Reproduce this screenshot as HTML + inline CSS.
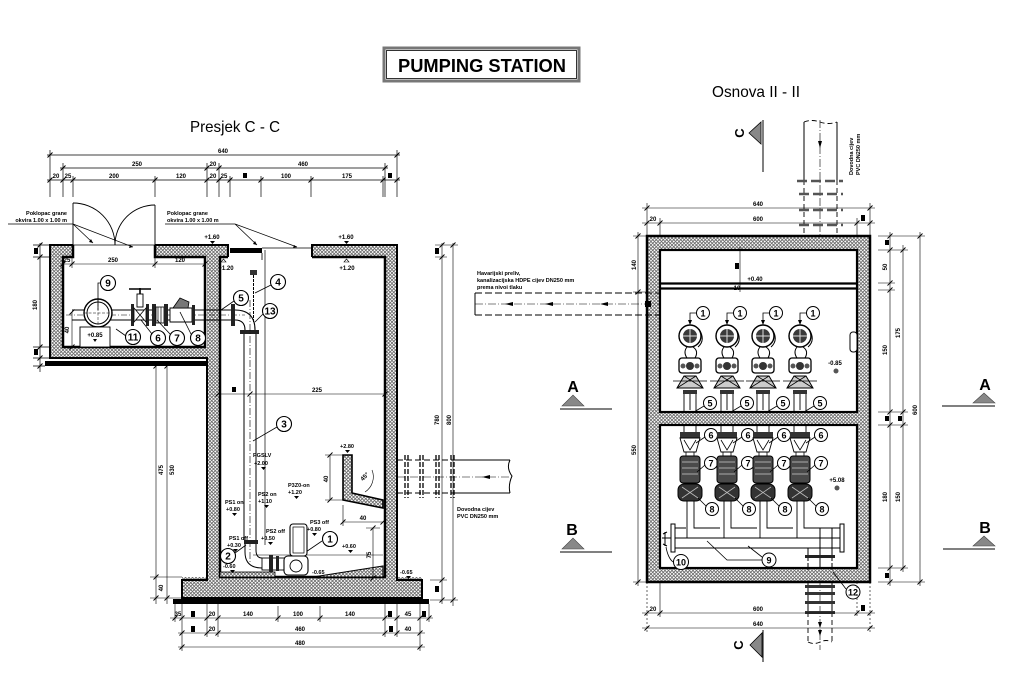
<!DOCTYPE html>
<html><head><meta charset="utf-8"><style>
html,body{margin:0;padding:0;background:#fff;width:1015px;height:677px;overflow:hidden}
svg{display:block}
text{font-family:"Liberation Sans",sans-serif;fill:#000}
.d{font-size:6px;font-weight:bold;text-anchor:middle}
.e{font-size:5.5px;font-weight:bold}
.c{font-size:10px;font-weight:bold;text-anchor:middle}
.c2{font-size:9px;font-weight:bold;text-anchor:middle}
</style></head><body>
<svg width="1015" height="677" viewBox="0 0 1015 677" xmlns="http://www.w3.org/2000/svg">
<defs>
<pattern id="h" width="3.5" height="3.5" patternUnits="userSpaceOnUse"><rect width="3.5" height="3.5" fill="#fff"/><path d="M0 0L3.5 3.5M3.5 0L0 3.5" stroke="#6a6a6a" stroke-width="0.8"/></pattern>
</defs>

<!-- TITLE -->
<rect x="384" y="48" width="195" height="33" fill="#fff" stroke="#777" stroke-width="3"/>
<rect x="386.5" y="50.5" width="190" height="28" fill="none" stroke="#000" stroke-width="0.8"/>
<text x="482" y="72" font-size="18" font-weight="bold" text-anchor="middle" textLength="168" lengthAdjust="spacingAndGlyphs">PUMPING STATION</text>
<text x="190" y="132" font-size="16" textLength="90" lengthAdjust="spacingAndGlyphs">Presjek C - C</text>
<text x="712" y="97" font-size="16" textLength="88" lengthAdjust="spacingAndGlyphs">Osnova II - II</text>

<!-- ============ LEFT SECTION ============ -->
<!-- top dims -->
<g stroke="#000" fill="none">
<path stroke-width="0.7" d="M47,155H400 M60,168H388 M47,180H400
 M50,150V197 M397,150V197 M63,163V197 M385,163V197 M207,163V197 M219,163V197
 M73,176V197 M155,176V197 M230,176V197 M261,176V197 M311,176V197 M383,176V197"/>
<path stroke-width="1" d="M47.5,157.5l5,-5 M394.5,157.5l5,-5 M60.5,170.5l5,-5 M204.5,170.5l5,-5 M216.5,170.5l5,-5 M382.5,170.5l5,-5 M47.5,182.5l5,-5 M60.5,182.5l5,-5 M70.5,182.5l5,-5 M152.5,182.5l5,-5 M204.5,182.5l5,-5 M216.5,182.5l5,-5 M227.5,182.5l5,-5 M258.5,182.5l5,-5 M308.5,182.5l5,-5 M380.5,182.5l5,-5 M394.5,182.5l5,-5"/>
</g>
<text x="223" y="153" class="d">640</text>
<text x="137" y="166" class="d">250</text>
<text x="213" y="166" class="d">20</text>
<text x="303" y="166" class="d">460</text>
<text x="56" y="178" class="d">20</text>
<text x="68" y="178" class="d">25</text>
<text x="114" y="178" class="d">200</text>
<text x="181" y="178" class="d">120</text>
<text x="213" y="178" class="d">20</text>
<text x="224" y="178" class="d">25</text>
<rect x="243" y="173" width="4" height="5"/>
<text x="286" y="178" class="d">100</text>
<text x="347" y="178" class="d">175</text>
<rect x="388" y="173" width="4" height="5"/>

<!-- left dims of room -->
<g stroke="#000" fill="none" stroke-width="0.7">
<path d="M40,243V372 M33,245H50 M33,257H50 M33,347H50 M33,358H50 M33,366H45"/>
<path stroke-width="1" d="M37.5,247.5l5,-5 M37.5,259.5l5,-5 M37.5,349.5l5,-5 M37.5,360.5l5,-5 M37.5,368.5l5,-5"/>
</g>
<rect x="34" y="248" width="4" height="6"/>
<text x="37" y="305" class="d" transform="rotate(-90 37 305)">180</text>
<rect x="34" y="349" width="4" height="6"/>

<!-- walls -->
<g fill="url(#h)">
<rect x="50" y="245" width="13" height="113"/>
<rect x="50" y="245" width="23" height="12"/>
<rect x="155" y="245" width="73" height="12"/>
<rect x="50" y="347" width="157" height="11"/>
<rect x="207" y="245" width="13" height="335"/>
<rect x="312" y="245" width="85" height="12"/>
<rect x="385" y="245" width="12" height="335"/>
<rect x="182" y="577" width="240" height="21"/>
</g>
<g stroke="#000" fill="none">
<path stroke-width="2.5" d="M73,245V257H63V347H205V257H155V245"/>
<path stroke-width="2" d="M73,245H50V358H207V580H182V598H422V580H397V245H312V257"/>
<path stroke-width="2" d="M155,245H228V257"/>
<path stroke-width="2.5" d="M228,257H220V577H385V257H312"/>
<path stroke-width="0.8" d="M73,245H155"/>
</g>
<rect x="45" y="361" width="162" height="5"/>
<rect x="173" y="599" width="256" height="5"/>
<!-- grating -->
<rect x="230" y="248" width="32" height="5"/>
<path d="M262,248H312 M262,253V260" stroke="#000" stroke-width="0.8" fill="none"/>

<!-- door leaves -->
<g stroke="#000" fill="none" stroke-width="0.9">
<path d="M73,245V203 M155,245V205"/>
<path d="M73,203A42,42 0 0,1 115,245"/>
<path d="M155,205A40,40 0 0,0 115,245"/>
<path stroke-width="0.7" d="M8,224H73L93,243 M73,224L133,247 M165,224H235L257,245 M235,224L297,247"/>
</g>
<path d="M93,243l-4,-1 2,-3z M133,247l-4,1 1,-3z M257,245l-4,-1 2,-3z M297,247l-4,1 1,-3z"/>
<text x="67" y="215" class="e" text-anchor="end">Poklopac grane</text>
<text x="67" y="222" class="e" text-anchor="end">okvira 1.00 x 1.00 m</text>
<text x="167" y="215" class="e">Poklopac grane</text>
<text x="167" y="222" class="e">okvira 1.00 x 1.00 m</text>

<!-- elevations top -->
<text x="212" y="239" class="d">+1.60</text>
<path d="M210,241h5l-2.5,3z"/>
<text x="346" y="239" class="d">+1.60</text>
<path d="M344,241h5l-2.5,3z"/>
<path d="M221,262h5l-2.5,-3z" fill="none" stroke="#000" stroke-width="0.6"/>
<text x="226" y="270" class="d">+1.20</text>
<path d="M344,262h5l-2.5,-3z" fill="none" stroke="#000" stroke-width="0.6"/>
<text x="347" y="270" class="d">+1.20</text>

<!-- room inner dims -->
<g stroke="#000" fill="none" stroke-width="0.6">
<path d="M63,264H205 M72,258V268 M155,258V268 M72,312V347"/>
<path stroke-width="0.9" d="M60.5,266.5l5,-5 M69.5,266.5l5,-5 M152.5,266.5l5,-5 M202.5,266.5l5,-5 M69.5,314.5l5,-5 M69.5,349.5l5,-5"/>
</g>
<text x="67" y="262" class="d">25</text>
<text x="113" y="262" class="d">250</text>
<text x="180" y="262" class="d">120</text>
<text x="69" y="330" class="d" transform="rotate(-90 69 330)">40</text>

<!-- room pipe & fittings -->
<path d="M72,310H232 M72,320H232" stroke="#000" stroke-width="1" fill="none"/>
<path d="M66,315H245" stroke="#000" stroke-width="0.5" stroke-dasharray="6,2,1,2"/>
<circle cx="98" cy="313" r="14" fill="#fff" stroke="#000" stroke-width="1.4"/>
<circle cx="98" cy="313" r="11" fill="none" stroke="#000" stroke-width="1"/>
<path d="M84,313H112 M98,299V327" stroke="#000" stroke-width="0.5" stroke-dasharray="3,1.5"/>
<rect x="80" y="327" width="30" height="20" fill="#fff" stroke="#000" stroke-width="0.9"/>
<text x="95" y="337" class="d">+0.85</text>
<path d="M93,339h4l-2,3z"/>
<!-- gate valve -->
<rect x="131" y="304" width="3" height="22" fill="#222"/>
<rect x="146" y="304" width="3" height="22" fill="#222"/>
<path d="M134,308L140,315L134,322Z M146,308L140,315L146,322Z" fill="#fff" stroke="#000" stroke-width="0.8"/>
<rect x="137" y="294" width="6" height="13" fill="#fff" stroke="#000" stroke-width="0.9"/>
<path d="M140,294V288 M129,289H151" stroke="#000" stroke-width="1.6"/>
<!-- dismantling joint -->
<rect x="152" y="304" width="4" height="22" fill="#222"/>
<rect x="156" y="307" width="8" height="16" fill="#fff" stroke="#000" stroke-width="0.8"/>
<path d="M158,307V323 M161,307V323" stroke="#000" stroke-width="0.7"/>
<rect x="164" y="304" width="4" height="22" fill="#222"/>
<!-- check valve -->
<path d="M170,308H192V322H170Z" fill="#fff" stroke="#000" stroke-width="0.9"/>
<path d="M173,308L180,298L189,302L188,308Z" fill="#777" stroke="#000" stroke-width="0.8"/>
<rect x="192" y="305" width="3" height="20" fill="#222"/>
<rect x="231" y="304" width="4" height="22" fill="#222"/>
<!-- elbow and riser -->
<path d="M235,310Q255,310 255,330 M235,320Q245,320 245,330" stroke="#000" stroke-width="1.1" fill="none"/>
<rect x="240" y="330" width="19" height="4" fill="#222"/>
<path d="M244,334V540 M256,334V540" stroke="#000" stroke-width="1" fill="none"/>
<path d="M250,300V565" stroke="#000" stroke-width="0.6" stroke-dasharray="7,2,1,2"/>
<!-- vent -->
<rect x="250" y="270" width="7" height="5" fill="#333"/>
<path d="M253.5,275V322" stroke="#000" stroke-width="1" stroke-dasharray="3,1"/>
<path d="M265,250V545" stroke="#000" stroke-width="0.7"/>
<!-- chamber dim -->
<g stroke="#000" stroke-width="0.6" fill="none">
<path d="M218,394H385"/>
<path stroke-width="0.9" d="M215.5,396.5l5,-5 M247.5,396.5l5,-5 M382.5,396.5l5,-5"/>
</g>
<rect x="232" y="387" width="4" height="5"/>
<text x="317" y="392" class="d">225</text>

<!-- callouts left -->
<g stroke="#000" stroke-width="0.8" fill="none">
<path d="M100,283H98V310 M126,336L116,329 M152,334L141,320 M170,334L157,320 M191,334L180,312 M234,301L221,310 M263,314L255,322 M271,285L255,293 M277,427L253,441 M322,541L300,556 M235,553L246,545"/>
</g>
<g fill="#fff" stroke="#000" stroke-width="1.1">
<circle cx="108" cy="283" r="7.5"/><circle cx="133" cy="337" r="7.5"/><circle cx="158" cy="338" r="7.5"/><circle cx="177" cy="338" r="7.5"/><circle cx="198" cy="338" r="7.5"/>
<circle cx="241" cy="298" r="7.5"/><circle cx="270" cy="311" r="7.5"/><circle cx="278" cy="282" r="7.5"/><circle cx="284" cy="424" r="7.5"/>
<circle cx="330" cy="539" r="7.5"/><circle cx="228" cy="556" r="7.5"/>
</g>
<text x="108" y="286.5" class="c">9</text>
<text x="133" y="340.5" class="c">11</text>
<text x="158" y="341.5" class="c">6</text>
<text x="177" y="341.5" class="c">7</text>
<text x="198" y="341.5" class="c">8</text>
<text x="241" y="301.5" class="c">5</text>
<text x="270" y="314.5" class="c">13</text>
<text x="278" y="285.5" class="c">4</text>
<text x="284" y="427.5" class="c">3</text>
<text x="330" y="542.5" class="c">1</text>
<text x="228" y="559.5" class="c">2</text>

<!-- chamber bottom -->
<rect x="220" y="572" width="55" height="5" fill="url(#h)" stroke="#000" stroke-width="0.8"/>
<path d="M313,577L383,566V577Z" fill="url(#h)" stroke="#000" stroke-width="1"/>
<path d="M253,555H383" stroke="#000" stroke-width="0.5"/>
<!-- pump in section -->
<rect x="244" y="540" width="14" height="4" fill="#222"/>
<path d="M245,544V552Q245,568 262,568 M256,544V550Q256,558 262,558" stroke="#000" stroke-width="1" fill="none"/>
<rect x="262" y="558" width="28" height="12" fill="#fff" stroke="#000" stroke-width="0.9"/>
<rect x="269" y="555" width="4" height="17" fill="#222"/>
<rect x="276" y="556" width="3" height="15" fill="#222"/>
<rect x="290" y="524" width="17" height="32" rx="3" fill="#fff" stroke="#000" stroke-width="1.1"/>
<rect x="293" y="527" width="11" height="26" fill="none" stroke="#000" stroke-width="0.7"/>
<rect x="284" y="556" width="24" height="19" rx="4" fill="#fff" stroke="#000" stroke-width="1.1"/>
<circle cx="296" cy="566" r="6" fill="none" stroke="#000" stroke-width="0.9"/>
<!-- baffle -->
<path d="M343,455H352V493L383,500V508L343,500Z" fill="url(#h)" stroke="#000" stroke-width="1.6"/>
<g stroke="#000" stroke-width="0.6" fill="none">
<path d="M330,455V500 M325,455H343 M325,500H343 M343,522H383 M343,505V526 M373,528V578 M366,528H380"/>
<path d="M365,492A18,18 0 0,0 372,470"/>
<path stroke-width="0.9" d="M327.5,457.5l5,-5 M327.5,502.5l5,-5 M340.5,524.5l5,-5 M380.5,524.5l5,-5 M370.5,530.5l5,-5 M370.5,580.5l5,-5"/>
</g>
<text x="328" y="479" class="d" transform="rotate(-90 328 479)">40</text>
<text x="363" y="520" class="d">40</text>
<text x="371" y="555" class="d" transform="rotate(-90 371 555)">75</text>
<text x="366" y="478" class="d" transform="rotate(-45 366 478)">45°</text>

<!-- level labels -->
<g class="e">
<text x="347" y="448" text-anchor="middle">+2.80</text>
<text x="253" y="457">PGSLV</text><text x="254" y="465">+2.00</text>
<text x="288" y="487">P3Z0-on</text><text x="288" y="494">+1.20</text>
<text x="258" y="496">PS2 on</text><text x="258" y="503">+1.10</text>
<text x="225" y="504">PS1 on</text><text x="226" y="511">+0.80</text>
<text x="310" y="524">PS3 off</text><text x="307" y="531">+0.80</text>
<text x="266" y="533">PS2 off</text><text x="261" y="540">+0.50</text>
<text x="229" y="540">PS1 off</text><text x="227" y="547">+0.30</text>
<text x="223" y="568">-0.60</text>
<text x="312" y="574">-0.65</text>
<text x="342" y="548">+0.60</text>
<text x="400" y="574">-0.65</text>
</g>
<path d="M345,450h5l-2.5,3z M261,467h5l-2.5,3z M294,496h5l-2.5,3z M264,505h5l-2.5,3z M232,513h5l-2.5,3z M312,533h5l-2.5,3z M268,542h5l-2.5,3z M233,549h5l-2.5,3z M230,570h5l-2.5,3z M316,576h5l-2.5,3z M348,550h5l-2.5,3z M406,576h5l-2.5,3z"/>

<!-- lower-left dims -->
<g stroke="#000" stroke-width="0.6" fill="none">
<path d="M156,366V604 M167,366V604 M150,577H182 M150,598H182"/>
<path stroke-width="0.9" d="M153.5,368.5l5,-5 M153.5,579.5l5,-5 M153.5,600.5l5,-5 M164.5,368.5l5,-5 M164.5,600.5l5,-5"/>
</g>
<text x="163" y="470" class="d" transform="rotate(-90 163 470)">475</text>
<text x="174" y="470" class="d" transform="rotate(-90 174 470)">530</text>
<text x="163" y="588" class="d" transform="rotate(-90 163 588)">40</text>

<!-- right dims left section -->
<g stroke="#000" stroke-width="0.6" fill="none">
<path d="M442,243V604 M453,243V606 M435,245H458 M435,257H447 M430,580H447 M430,600H458"/>
<path stroke-width="0.9" d="M439.5,247.5l5,-5 M439.5,259.5l5,-5 M439.5,582.5l5,-5 M439.5,602.5l5,-5 M450.5,247.5l5,-5 M450.5,602.5l5,-5"/>
</g>
<rect x="435" y="248" width="4" height="6"/>
<text x="439" y="420" class="d" transform="rotate(-90 439 420)">780</text>
<text x="451" y="420" class="d" transform="rotate(-90 451 420)">800</text>
<rect x="435" y="586" width="4" height="6"/>

<!-- bottom dims left section -->
<g stroke="#000" stroke-width="0.6" fill="none">
<path d="M170,618H433 M178,633H425 M178,647H425
 M175,604V622 M429,604V622 M278,606V622 M320,606V622 M182,600V651 M420,600V651 M207,600V637 M218,600V637 M385,600V637 M397,600V637"/>
<path stroke-width="0.9" d="M172.5,620.5l5,-5 M179.5,620.5l5,-5 M204.5,620.5l5,-5 M215.5,620.5l5,-5 M275.5,620.5l5,-5 M317.5,620.5l5,-5 M382.5,620.5l5,-5 M394.5,620.5l5,-5 M417.5,620.5l5,-5 M426.5,620.5l5,-5 M179.5,635.5l5,-5 M204.5,635.5l5,-5 M215.5,635.5l5,-5 M382.5,635.5l5,-5 M394.5,635.5l5,-5 M417.5,635.5l5,-5 M179.5,649.5l5,-5 M417.5,649.5l5,-5"/>
</g>
<text x="178" y="616" class="d">35</text>
<rect x="191" y="611" width="4" height="6"/>
<text x="212" y="616" class="d">20</text>
<text x="248" y="616" class="d">140</text>
<text x="298" y="616" class="d">100</text>
<text x="350" y="616" class="d">140</text>
<rect x="388" y="611" width="4" height="6"/>
<text x="408" y="616" class="d">45</text>
<rect x="422" y="611" width="4" height="6"/>
<rect x="191" y="626" width="4" height="6"/>
<text x="212" y="631" class="d">20</text>
<text x="300" y="631" class="d">460</text>
<rect x="389" y="626" width="4" height="6"/>
<text x="408" y="631" class="d">40</text>
<text x="300" y="645" class="d">480</text>

<!-- inlet pipe section -->
<g stroke="#000" fill="none">
<path stroke-width="1" d="M453,460H510 M453,493H510 M510,460Q506,468 512,476 Q508,485 510,493"/>
<path stroke-width="0.9" stroke-dasharray="6,3" d="M397,460H453 M397,493H453"/>
<path stroke-width="0.6" stroke-dasharray="8,2,1,2" d="M397,477H512"/>
<path stroke-width="1.3" stroke-dasharray="5,2" d="M405,455V498 M408,455V498 M420,455V498 M423,455V498 M436,455V498 M439,455V498 M451,455V498 M454,455V498"/>
</g>
<path d="M482,477l8,-2v4z"/>
<text x="457" y="511" class="e">Dovodna cijev</text>
<text x="457" y="518" class="e">PVC DN250 mm</text>

<!-- ============ PLAN ============ -->
<!-- C markers -->
<text x="740" y="133" font-size="13" font-weight="bold" text-anchor="middle" transform="rotate(-90 740 133)" dy="4">C</text>
<path d="M749,133L761,122V144Z" fill="#888" stroke="#000" stroke-width="0.8"/>
<path d="M763,120V172" stroke="#000" stroke-width="1"/>
<text x="739" y="645" font-size="13" font-weight="bold" text-anchor="middle" transform="rotate(-90 739 645)" dy="4">C</text>
<path d="M750,645L762,633V657Z" fill="#888" stroke="#000" stroke-width="0.8"/>
<path d="M763,630V662" stroke="#000" stroke-width="1"/>

<!-- top inlet pipe -->
<g stroke="#000" fill="none">
<path stroke-width="1" d="M804,122V180 M837,122V180"/>
<path stroke-width="0.9" stroke-dasharray="5,3" d="M804,180V236 M837,180V236 M804,122Q812,119 820,122T837,122"/>
<path stroke-width="0.6" stroke-dasharray="8,2,1,2" d="M820,120V240"/>
<path stroke="#555" stroke-width="2.5" stroke-dasharray="10,4" d="M797,181H843 M799,194H843 M799,210H843 M799,225H843"/>
</g>
<path d="M818,141h4l-2,7z"/>
<text x="853" y="175" class="e" transform="rotate(-90 853 175)">Dovodna cijev</text>
<text x="860" y="175" class="e" transform="rotate(-90 860 175)">PVC DN250 mm</text>

<!-- plan walls -->
<g fill="url(#h)">
<rect x="647" y="236" width="223" height="14"/>
<rect x="647" y="568" width="223" height="14"/>
<rect x="647" y="236" width="13" height="346"/>
<rect x="857" y="236" width="13" height="346"/>
<rect x="660" y="412" width="197" height="13"/>
</g>
<rect x="647" y="236" width="223" height="346" fill="none" stroke="#000" stroke-width="2.5"/>
<rect x="660" y="250" width="197" height="162" fill="none" stroke="#000" stroke-width="2.2"/>
<rect x="660" y="425" width="197" height="143" fill="none" stroke="#000" stroke-width="2.2"/>
<path d="M661,283.5H857 M661,288.5H857" stroke="#000" stroke-width="2.3"/>
<path d="M740,247V292 M735,250H745 M735,283H745" stroke="#000" stroke-width="0.6"/>
<rect x="735" y="263" width="4" height="6"/>
<text x="755" y="281" class="d">+0.40</text>
<text x="737" y="290" class="d">10</text>
<rect x="850" y="332" width="7" height="20" rx="3" fill="#fff" stroke="#000" stroke-width="1"/>
<text x="835" y="365" class="d">-0.85</text>
<circle cx="836" cy="371" r="2.5" fill="#555"/>
<text x="837" y="482" class="d">+5.08</text>
<circle cx="837" cy="488" r="2.5" fill="#555"/>

<!-- overflow pipe plan -->
<g stroke="#000" fill="none">
<path stroke-width="0.9" stroke-dasharray="7,3" d="M475,293H660 M475,315H660"/>
<path stroke-width="0.6" stroke-dasharray="8,2,1,2" d="M475,304H660"/>
<path stroke-width="1" d="M475,293V315"/>
</g>
<path d="M505,304l8,-2v4z M545,304l8,-2v4z M600,304l8,-2v4z"/>
<rect x="645" y="301" width="6" height="6"/>
<text x="477" y="275" class="e">Havarijski preliv,</text>
<text x="477" y="282" class="e">kanalizacijska HDPE cijev DN250 mm</text>
<text x="477" y="289" class="e">prema nivoi tlaku</text>

<!-- pumps upper -->
<g id="pumps">
<g transform="translate(690,0)">
<circle cx="0" cy="336" r="11" fill="#fff" stroke="#000" stroke-width="1.4"/>
<circle cx="0" cy="336" r="7" fill="#3a3a3a"/>
<path d="M-7,336H7M0,329V343" stroke="#ddd" stroke-width="1"/>
<path d="M9,329Q16,340 8,347 M-3,347Q-7,352 -3,358 M3,347Q9,351 5,358" stroke="#000" fill="none" stroke-width="1"/>
<rect x="-11" y="358" width="22" height="15" rx="3" fill="#fff" stroke="#000" stroke-width="1.3"/>
<circle cx="0" cy="366" r="4" fill="#333"/><circle cx="-7" cy="366" r="2.5" fill="#555"/><circle cx="7" cy="366" r="2.5" fill="#555"/>
<path d="M-13,388L-6,376H6L13,388Z" fill="#ccc" stroke="#000" stroke-width="1"/>
<path d="M-13,388L6,376M13,388L-6,376M-17,381H17" stroke="#000" stroke-width="0.8"/>
<rect x="-7" y="390" width="14" height="4" fill="#333"/>
<path d="M-6,394V412M6,394V412M0,394V410M-6,425V432M6,425V432" stroke="#000" stroke-width="0.9"/>
<rect x="-10" y="432" width="20" height="6" fill="#333"/>
<path d="M-10,438H10L6,452H-6Z" fill="#fff" stroke="#000" stroke-width="0.9"/>
<path d="M-6,440L0,450L6,440M-4,452V456M4,452V456" stroke="#000" stroke-width="0.8" fill="none"/>
<rect x="-10" y="456" width="20" height="27" rx="3" fill="#4a4a4a" stroke="#000"/>
<path d="M-8,462H8M-8,468H8M-8,474H8" stroke="#ccc" stroke-width="0.8"/>
<rect x="-12" y="484" width="24" height="17" rx="6" fill="#333" stroke="#000"/>
<path d="M-8,487L8,498M8,487L-8,498" stroke="#bbb" stroke-width="0.8"/>
<path d="M-3,501V538M4,501V528H30" stroke="#000" stroke-width="0.9" fill="none"/>
<path d="M6.5,313H0V322M14,406L4,412M15,437L6,443M15,465L7,472M16,506L8,498" stroke="#000" stroke-width="0.8" fill="none"/>
<path d="M-2,320L2,320L0,325Z"/>
<g fill="#fff" stroke="#000" stroke-width="1"><circle cx="13" cy="313" r="6.5"/><circle cx="20" cy="403" r="6.5"/><circle cx="21" cy="435" r="6.5"/><circle cx="21" cy="463" r="6.5"/><circle cx="22" cy="509" r="6.5"/></g>
<text x="13" y="316.5" class="c2">1</text><text x="20" y="406.5" class="c2">5</text><text x="21" y="438.5" class="c2">6</text><text x="21" y="466.5" class="c2">7</text><text x="22" y="512.5" class="c2">8</text>
</g>
<g transform="translate(727,0)">
<circle cx="0" cy="336" r="11" fill="#fff" stroke="#000" stroke-width="1.4"/>
<circle cx="0" cy="336" r="7" fill="#3a3a3a"/>
<path d="M-7,336H7M0,329V343" stroke="#ddd" stroke-width="1"/>
<path d="M9,329Q16,340 8,347 M-3,347Q-7,352 -3,358 M3,347Q9,351 5,358" stroke="#000" fill="none" stroke-width="1"/>
<rect x="-11" y="358" width="22" height="15" rx="3" fill="#fff" stroke="#000" stroke-width="1.3"/>
<circle cx="0" cy="366" r="4" fill="#333"/><circle cx="-7" cy="366" r="2.5" fill="#555"/><circle cx="7" cy="366" r="2.5" fill="#555"/>
<path d="M-13,388L-6,376H6L13,388Z" fill="#ccc" stroke="#000" stroke-width="1"/>
<path d="M-13,388L6,376M13,388L-6,376M-17,381H17" stroke="#000" stroke-width="0.8"/>
<rect x="-7" y="390" width="14" height="4" fill="#333"/>
<path d="M-6,394V412M6,394V412M0,394V410M-6,425V432M6,425V432" stroke="#000" stroke-width="0.9"/>
<rect x="-10" y="432" width="20" height="6" fill="#333"/>
<path d="M-10,438H10L6,452H-6Z" fill="#fff" stroke="#000" stroke-width="0.9"/>
<path d="M-6,440L0,450L6,440M-4,452V456M4,452V456" stroke="#000" stroke-width="0.8" fill="none"/>
<rect x="-10" y="456" width="20" height="27" rx="3" fill="#4a4a4a" stroke="#000"/>
<path d="M-8,462H8M-8,468H8M-8,474H8" stroke="#ccc" stroke-width="0.8"/>
<rect x="-12" y="484" width="24" height="17" rx="6" fill="#333" stroke="#000"/>
<path d="M-8,487L8,498M8,487L-8,498" stroke="#bbb" stroke-width="0.8"/>
<path d="M-3,501V538M4,501V528H30" stroke="#000" stroke-width="0.9" fill="none"/>
<path d="M6.5,313H0V322M14,406L4,412M15,437L6,443M15,465L7,472M16,506L8,498" stroke="#000" stroke-width="0.8" fill="none"/>
<path d="M-2,320L2,320L0,325Z"/>
<g fill="#fff" stroke="#000" stroke-width="1"><circle cx="13" cy="313" r="6.5"/><circle cx="20" cy="403" r="6.5"/><circle cx="21" cy="435" r="6.5"/><circle cx="21" cy="463" r="6.5"/><circle cx="22" cy="509" r="6.5"/></g>
<text x="13" y="316.5" class="c2">1</text><text x="20" y="406.5" class="c2">5</text><text x="21" y="438.5" class="c2">6</text><text x="21" y="466.5" class="c2">7</text><text x="22" y="512.5" class="c2">8</text>
</g>
<g transform="translate(763,0)">
<circle cx="0" cy="336" r="11" fill="#fff" stroke="#000" stroke-width="1.4"/>
<circle cx="0" cy="336" r="7" fill="#3a3a3a"/>
<path d="M-7,336H7M0,329V343" stroke="#ddd" stroke-width="1"/>
<path d="M9,329Q16,340 8,347 M-3,347Q-7,352 -3,358 M3,347Q9,351 5,358" stroke="#000" fill="none" stroke-width="1"/>
<rect x="-11" y="358" width="22" height="15" rx="3" fill="#fff" stroke="#000" stroke-width="1.3"/>
<circle cx="0" cy="366" r="4" fill="#333"/><circle cx="-7" cy="366" r="2.5" fill="#555"/><circle cx="7" cy="366" r="2.5" fill="#555"/>
<path d="M-13,388L-6,376H6L13,388Z" fill="#ccc" stroke="#000" stroke-width="1"/>
<path d="M-13,388L6,376M13,388L-6,376M-17,381H17" stroke="#000" stroke-width="0.8"/>
<rect x="-7" y="390" width="14" height="4" fill="#333"/>
<path d="M-6,394V412M6,394V412M0,394V410M-6,425V432M6,425V432" stroke="#000" stroke-width="0.9"/>
<rect x="-10" y="432" width="20" height="6" fill="#333"/>
<path d="M-10,438H10L6,452H-6Z" fill="#fff" stroke="#000" stroke-width="0.9"/>
<path d="M-6,440L0,450L6,440M-4,452V456M4,452V456" stroke="#000" stroke-width="0.8" fill="none"/>
<rect x="-10" y="456" width="20" height="27" rx="3" fill="#4a4a4a" stroke="#000"/>
<path d="M-8,462H8M-8,468H8M-8,474H8" stroke="#ccc" stroke-width="0.8"/>
<rect x="-12" y="484" width="24" height="17" rx="6" fill="#333" stroke="#000"/>
<path d="M-8,487L8,498M8,487L-8,498" stroke="#bbb" stroke-width="0.8"/>
<path d="M-3,501V538M4,501V528H30" stroke="#000" stroke-width="0.9" fill="none"/>
<path d="M6.5,313H0V322M14,406L4,412M15,437L6,443M15,465L7,472M16,506L8,498" stroke="#000" stroke-width="0.8" fill="none"/>
<path d="M-2,320L2,320L0,325Z"/>
<g fill="#fff" stroke="#000" stroke-width="1"><circle cx="13" cy="313" r="6.5"/><circle cx="20" cy="403" r="6.5"/><circle cx="21" cy="435" r="6.5"/><circle cx="21" cy="463" r="6.5"/><circle cx="22" cy="509" r="6.5"/></g>
<text x="13" y="316.5" class="c2">1</text><text x="20" y="406.5" class="c2">5</text><text x="21" y="438.5" class="c2">6</text><text x="21" y="466.5" class="c2">7</text><text x="22" y="512.5" class="c2">8</text>
</g>
<g transform="translate(800,0)">
<circle cx="0" cy="336" r="11" fill="#fff" stroke="#000" stroke-width="1.4"/>
<circle cx="0" cy="336" r="7" fill="#3a3a3a"/>
<path d="M-7,336H7M0,329V343" stroke="#ddd" stroke-width="1"/>
<path d="M9,329Q16,340 8,347 M-3,347Q-7,352 -3,358 M3,347Q9,351 5,358" stroke="#000" fill="none" stroke-width="1"/>
<rect x="-11" y="358" width="22" height="15" rx="3" fill="#fff" stroke="#000" stroke-width="1.3"/>
<circle cx="0" cy="366" r="4" fill="#333"/><circle cx="-7" cy="366" r="2.5" fill="#555"/><circle cx="7" cy="366" r="2.5" fill="#555"/>
<path d="M-13,388L-6,376H6L13,388Z" fill="#ccc" stroke="#000" stroke-width="1"/>
<path d="M-13,388L6,376M13,388L-6,376M-17,381H17" stroke="#000" stroke-width="0.8"/>
<rect x="-7" y="390" width="14" height="4" fill="#333"/>
<path d="M-6,394V412M6,394V412M0,394V410M-6,425V432M6,425V432" stroke="#000" stroke-width="0.9"/>
<rect x="-10" y="432" width="20" height="6" fill="#333"/>
<path d="M-10,438H10L6,452H-6Z" fill="#fff" stroke="#000" stroke-width="0.9"/>
<path d="M-6,440L0,450L6,440M-4,452V456M4,452V456" stroke="#000" stroke-width="0.8" fill="none"/>
<rect x="-10" y="456" width="20" height="27" rx="3" fill="#4a4a4a" stroke="#000"/>
<path d="M-8,462H8M-8,468H8M-8,474H8" stroke="#ccc" stroke-width="0.8"/>
<rect x="-12" y="484" width="24" height="17" rx="6" fill="#333" stroke="#000"/>
<path d="M-8,487L8,498M8,487L-8,498" stroke="#bbb" stroke-width="0.8"/>
<path d="M-3,501V538M4,501V528H20" stroke="#000" stroke-width="0.9" fill="none"/>
<path d="M6.5,313H0V322M14,406L4,412M15,437L6,443M15,465L7,472M16,506L8,498" stroke="#000" stroke-width="0.8" fill="none"/>
<path d="M-2,320L2,320L0,325Z"/>
<g fill="#fff" stroke="#000" stroke-width="1"><circle cx="13" cy="313" r="6.5"/><circle cx="20" cy="403" r="6.5"/><circle cx="21" cy="435" r="6.5"/><circle cx="21" cy="463" r="6.5"/><circle cx="22" cy="509" r="6.5"/></g>
<text x="13" y="316.5" class="c2">1</text><text x="20" y="406.5" class="c2">5</text><text x="21" y="438.5" class="c2">6</text><text x="21" y="466.5" class="c2">7</text><text x="22" y="512.5" class="c2">8</text>
</g>
</g>

<!-- manifold -->
<g stroke="#000" fill="none" stroke-width="1">
<path d="M675,528H686 M675,548H840 M675,538H840"/>
<path d="M820,528H840 M808,548V557 M832,528V557 M820,528V568"/>
<path stroke-dasharray="4,2" d="M808,557V570 M832,557V570"/>
</g>
<rect x="671" y="524" width="4" height="28" fill="#fff" stroke="#000"/>
<rect x="840" y="524" width="4" height="28" fill="#fff" stroke="#000"/>
<rect x="805" y="555" width="30" height="3" fill="#222"/>
<!-- valve 10 -->
<path d="M665,532V546 M662,538H671 M663,534l4,-2 M663,544l4,2" stroke="#000" stroke-width="1" fill="none"/>
<g stroke="#000" stroke-width="0.8" fill="none">
<path d="M673,562Q668,558 666,547 M762,560H727L707,541 M762,557L748,546 M846,589L833,572"/>
</g>
<g fill="#fff" stroke="#000" stroke-width="1"><circle cx="681" cy="562" r="7.5"/><circle cx="769" cy="560" r="7"/><circle cx="853" cy="592" r="7"/></g>
<text x="681" y="565.5" class="c2">10</text>
<text x="769" y="563.5" class="c2">9</text>
<text x="853" y="595.5" class="c2">12</text>

<!-- bottom outlet pipe -->
<g stroke="#000" fill="none">
<path stroke-width="1" d="M808,582V612 M832,582V612"/>
<path stroke-width="0.9" stroke-dasharray="5,3" d="M808,612V642 M832,612V642 M808,642Q814,645 820,642T832,642"/>
<path stroke-width="0.6" stroke-dasharray="8,2,1,2" d="M820,580V650"/>
</g>
<rect x="805" y="585" width="30" height="3" fill="#333"/>
<rect x="805" y="592" width="30" height="3" fill="#333"/>
<rect x="805" y="601" width="30" height="3" fill="#333"/>
<rect x="805" y="611" width="30" height="3" fill="#333"/>
<path d="M818,622h4l-2,6z M818,630h4l-2,6z"/>

<!-- plan dims top/bottom -->
<g stroke="#000" stroke-width="0.6" fill="none">
<path d="M642,208H875 M642,223H875 M647,203V236 M870,203V236 M660,218V236 M857,218V236"/>
<path d="M642,613H875 M642,628H875 M660,582V617"/>
<path stroke-dasharray="2,2" d="M647,582V632 M870,582V632 M857,582V617"/>
<path stroke-width="0.9" d="M644.5,210.5l5,-5 M867.5,210.5l5,-5 M644.5,225.5l5,-5 M657.5,225.5l5,-5 M854.5,225.5l5,-5 M867.5,225.5l5,-5 M644.5,615.5l5,-5 M657.5,615.5l5,-5 M854.5,615.5l5,-5 M867.5,615.5l5,-5 M644.5,630.5l5,-5 M867.5,630.5l5,-5"/>
</g>
<text x="758" y="206" class="d">640</text>
<text x="653" y="221" class="d">20</text>
<text x="758" y="221" class="d">600</text>
<rect x="861" y="215" width="4" height="6"/>
<text x="653" y="611" class="d">20</text>
<text x="758" y="611" class="d">600</text>
<rect x="861" y="605" width="4" height="6"/>
<text x="758" y="626" class="d">640</text>

<!-- plan left dims -->
<g stroke="#000" stroke-width="0.6" fill="none">
<path d="M638,232V586 M633,236H647 M633,582H647 M633,292H647"/>
<path stroke-width="0.9" d="M635.5,238.5l5,-5 M635.5,294.5l5,-5 M635.5,584.5l5,-5"/>
</g>
<text x="636" y="265" class="d" transform="rotate(-90 636 265)">140</text>
<text x="636" y="450" class="d" transform="rotate(-90 636 450)">550</text>

<!-- plan right dims -->
<g stroke="#000" stroke-width="0.6" fill="none">
<path d="M890,232V586 M903,245V572 M920,232V586
 M878,236H925 M878,250H908 M878,283H895 M878,290H895 M878,412H908 M878,425H908 M878,568H908 M878,582H925"/>
<path stroke-width="0.9" d="M887.5,238.5l5,-5 M887.5,252.5l5,-5 M887.5,285.5l5,-5 M887.5,292.5l5,-5 M887.5,414.5l5,-5 M887.5,427.5l5,-5 M887.5,570.5l5,-5 M887.5,584.5l5,-5 M900.5,252.5l5,-5 M900.5,414.5l5,-5 M900.5,427.5l5,-5 M900.5,570.5l5,-5 M917.5,238.5l5,-5 M917.5,584.5l5,-5"/>
</g>
<rect x="885" y="240" width="4" height="5"/>
<text x="887" y="267" class="d" transform="rotate(-90 887 267)">50</text>
<text x="887" y="350" class="d" transform="rotate(-90 887 350)">150</text>
<rect x="885" y="416" width="4" height="5"/>
<text x="887" y="497" class="d" transform="rotate(-90 887 497)">180</text>
<rect x="885" y="573" width="4" height="5"/>
<text x="900" y="333" class="d" transform="rotate(-90 900 333)">175</text>
<rect x="898" y="416" width="4" height="5"/>
<text x="900" y="497" class="d" transform="rotate(-90 900 497)">150</text>
<text x="917" y="410" class="d" transform="rotate(-90 917 410)">600</text>

<!-- A / B markers -->
<g font-size="16" font-weight="bold" text-anchor="middle">
<text x="573" y="392">A</text>
<text x="572" y="535">B</text>
<text x="985" y="390">A</text>
<text x="985" y="533">B</text>
</g>
<path d="M562,406L573,395L584,406Z M562,549L573,538L584,549Z M973,403L984,393L995,403Z M973,546L984,536L995,546Z" fill="#888" stroke="#444" stroke-width="0.6"/>
<path d="M560,409H612 M560,552H612 M942,406H995 M943,549H995" stroke="#000" stroke-width="1"/>
</svg>
</body></html>
